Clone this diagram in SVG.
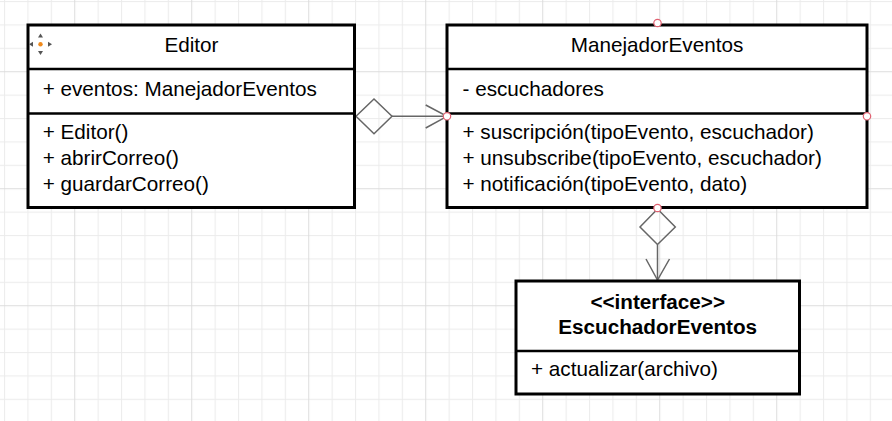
<svg xmlns="http://www.w3.org/2000/svg" width="892" height="421" viewBox="0 0 892 421">
<style>
.box{fill:#fff;stroke:#000;stroke-width:3}
.div{stroke:#000;stroke-width:2.5}
.t{font-family:"Liberation Sans",Arial,sans-serif;font-size:20.7px;fill:#000}
.c{text-anchor:middle}
.b{font-weight:bold}
.conn{fill:none;stroke:#666;stroke-width:1.5}
.pt{fill:#fff;stroke:#e06070;stroke-width:1.2}
</style>
<defs>
<pattern id="grid" x="4.1" y="1.1" width="117" height="117" patternUnits="userSpaceOnUse">
<path d="M0.5 0V117M23.9 0V117M47.3 0V117M94.1 0V117M0 0.5H117M0 23.9H117M0 47.3H117M0 94.1H117" stroke="#ebebeb" stroke-width="1" fill="none"/>
<path d="M70.7 0V117M0 70.7H117" stroke="#dcdcdc" stroke-width="1" fill="none"/>
</pattern>
</defs>
<rect width="892" height="421" fill="#fff"/>
<rect width="892" height="421" fill="url(#grid)"/>

<g id="connectors">
<g id="editor-manejador">
<polygon class="conn" points="356,116.3 374,99 392,116.3 374,133.7"/>
<line class="conn" x1="392" y1="116.3" x2="447" y2="116.3"/>
<polyline class="conn" points="425.7,105 447,116.3 425.7,128"/>
</g>
<g id="manejador-escuchador">
<polygon class="conn" points="657.5,209 675.3,227 657.5,244.5 640,227"/>
<line class="conn" x1="657.5" y1="244.5" x2="657.5" y2="280"/>
<polyline class="conn" points="646,259 657.5,280 669.5,259"/>
</g>
</g>

<g id="editor">
<rect class="box" x="28" y="25" width="326.5" height="182.5"/>
<line class="div" x1="28" y1="69" x2="354.5" y2="69"/>
<line class="div" x1="28" y1="113.5" x2="354.5" y2="113.5"/>
<text class="t c" x="191.5" y="52.3">Editor</text>
<text class="t" x="42.7" y="96">+ eventos: ManejadorEventos</text>
<text class="t" x="42.7" y="139.3">+ Editor()</text>
<text class="t" x="42.7" y="165.2">+ abrirCorreo()</text>
<text class="t" x="42.7" y="190.9">+ guardarCorreo()</text>
<g id="move-icon">
<circle cx="40.5" cy="44" r="6" fill="#fff" opacity="0.8"/>
<circle cx="40.5" cy="44.3" r="2.2" fill="#f08a1c"/>
<polygon points="40.5,33.5 38,37.5 43,37.5" fill="#555"/>
<polygon points="40.5,55 38,51 43,51" fill="#555"/>
<polygon points="29,44.3 33,41.8 33,46.8" fill="#555"/>
<polygon points="52,44.3 48,41.8 48,46.8" fill="#555"/>
</g>
</g>

<g id="manejador">
<rect class="box" x="447" y="25" width="420" height="182.5"/>
<line class="div" x1="447" y1="69" x2="867" y2="69"/>
<line class="div" x1="447" y1="113.5" x2="867" y2="113.5"/>
<text class="t c" x="657" y="52.3">ManejadorEventos</text>
<text class="t" x="462.5" y="96">- escuchadores</text>
<text class="t" x="462.5" y="139.3">+ suscripción(tipoEvento, escuchador)</text>
<text class="t" x="462.5" y="165.2">+ unsubscribe(tipoEvento, escuchador)</text>
<text class="t" x="462.5" y="190.9">+ notificación(tipoEvento, dato)</text>
<circle class="pt" cx="657.5" cy="23" r="3.7"/>
<circle class="pt" cx="867" cy="116.3" r="3.7"/>
<circle class="pt" cx="657.5" cy="208" r="3.7"/>
<circle class="pt" cx="447" cy="116.3" r="3.7"/>
</g>

<g id="escuchador">
<rect class="box" x="516" y="281" width="283.5" height="113"/>
<line class="div" x1="516" y1="351" x2="799.5" y2="351"/>
<text class="t c b" x="657.7" y="308.7">&lt;&lt;interface&gt;&gt;</text>
<text class="t c b" x="657.7" y="333.5">EscuchadorEventos</text>
<text class="t" x="531" y="375.7">+ actualizar(archivo)</text>
</g>
</svg>
